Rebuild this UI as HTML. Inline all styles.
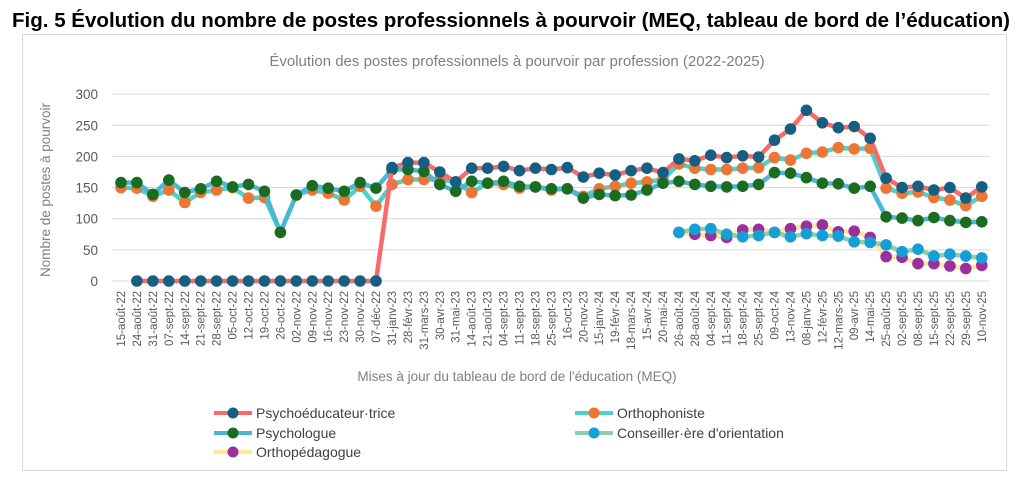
<!DOCTYPE html>
<html><head><meta charset="utf-8"><style>
body{margin:0;background:#fff;width:1024px;height:499px;overflow:hidden;font-family:"Liberation Sans",sans-serif}
</style></head><body>
<svg id="s" width="1024" height="499" xmlns="http://www.w3.org/2000/svg" font-family="Liberation Sans, sans-serif">
<text x="12" y="27" font-size="20" font-weight="bold" fill="#000" textLength="998" lengthAdjust="spacingAndGlyphs">Fig. 5 Évolution du nombre de postes professionnels à pourvoir (MEQ, tableau de bord de l’éducation)</text>
<rect x="22.5" y="34.5" width="984" height="436" fill="#fff" stroke="#d9d9d9"/>
<text x="517" y="66" font-size="15" fill="#7f7f7f" text-anchor="middle">Évolution des postes professionnels à pourvoir par profession (2022-2025)</text>
<text x="517" y="381" font-size="13.5" fill="#7f7f7f" text-anchor="middle">Mises à jour du tableau de bord de l'éducation (MEQ)</text>
<text transform="translate(50,190) rotate(-90)" font-size="13.5" fill="#7f7f7f" text-anchor="middle">Nombre de postes à pourvoir</text>
<g id="g"></g>
</svg>
<script>
var g=document.getElementById('g'),h='';
var X0=121,DX=15.94,Y0=281,K=0.623;
function X(i){return X0+i*DX}function Y(v){return Y0-v*K}
for(var t=0;t<=300;t+=50){var y=Y(t);h+='<line x1="112" x2="990" y1="'+y+'" y2="'+y+'" stroke="#d9d9d9"/>';h+='<text x="98" y="'+(y+5)+'" font-size="13.5" fill="#595959" text-anchor="end">'+t+'</text>';}
var L=["15-août-22","24-août-22","31-août-22","07-sept-22","14-sept-22","21-sept-22","28-sept-22","05-oct-22","12-oct-22","19-oct-22","26-oct-22","02-nov-22","09-nov-22","16-nov-22","23-nov-22","30-nov-22","07-déc-22","31-janv-23","28-févr-23","31-mars-23","30-avr-23","31-mai-23","14-août-23","21-août-23","04-sept-23","11-sept-23","18-sept-23","25-sept-23","16-oct-23","20-nov-23","15-janv-24","19-févr-24","18-mars-24","15-avr-24","20-mai-24","26-août-24","28-août-24","04-sept-24","11-sept-24","18-sept-24","25-sept-24","09-oct-24","13-nov-24","08-janv-25","12-févr-25","12-mars-25","09-avr-25","14-mai-25","25-août-25","02-sept-25","08-sept-25","15-sept-25","22-sept-25","29-sept-25","10-nov-25"];
L.forEach(function(l,i){h+='<text transform="translate('+(X(i)+4)+',291) rotate(-90)" font-size="11.5" fill="#595959" text-anchor="end">'+l+'</text>';});
var N=null;
var pe=[N,0,0,0,0,0,0,0,0,0,0,0,0,0,0,0,0,182,190,190,175,159,181,181,184,177,181,179,182,167,173,170,177,181,174,196,193,202,198,201,199,226,244,274,254,246,248,229,165,150,152,146,150,133,151];
var or=[150,149,136,146,126,142,146,150,133,134,78,138,146,141,130,152,120,155,163,163,163,159,142,157,155,149,151,146,148,136,148,152,157,159,163,188,181,179,179,181,182,198,194,205,207,214,212,213,149,141,143,134,130,121,136];
var ps=[158,158,139,162,142,148,160,151,155,144,78,138,153,149,144,158,149,179,179,176,155,144,160,157,160,152,151,148,148,133,139,137,138,146,157,160,155,152,151,152,155,174,173,166,157,156,149,152,103,101,97,102,97,94,95];
var co=[],op=[],c2=[78,83,84,75,71,73,78,71,76,73,72,63,62,58,47,51,40,43,40,37],o2=[78,75,73,70,82,83,78,84,88,90,79,80,70,39,38,28,28,24,20,25];
for(var i=0;i<55;i++){co.push(i<35?N:c2[i-35]);op.push(i<35?N:o2[i-35]);}
var S=[[op,"#ffe699","#9b2f9e"],[co,"#8fcfa8","#159fd7"],[or,"#4fd1c5","#ed7536"],[ps,"#4ab8d4","#1b6b21"],[pe,"#f76b6b","#155f83"]];
S.forEach(function(s){var d='';s[0].forEach(function(v,i){if(v===null)return;d+=(d?'L':'M')+X(i).toFixed(1)+' '+Y(v).toFixed(1);});
h+='<path d="'+d+'" fill="none" stroke="'+s[1]+'" stroke-width="4.5" stroke-linejoin="round"/>';
s[0].forEach(function(v,i){if(v===null)return;h+='<circle cx="'+X(i).toFixed(1)+'" cy="'+Y(v).toFixed(1)+'" r="5.8" fill="'+s[2]+'"/>';});});
var LG=[[214,413,"#f76b6b","#155f83","Psychoéducateur·trice"],[575,413,"#4fd1c5","#ed7536","Orthophoniste"],[214,433,"#4ab8d4","#1b6b21","Psychologue"],[575,433,"#8fcfa8","#159fd7","Conseiller·ère d'orientation"],[214,452,"#ffe699","#9b2f9e","Orthopédagogue"]];
LG.forEach(function(a){h+='<line x1="'+a[0]+'" x2="'+(a[0]+38)+'" y1="'+a[1]+'" y2="'+a[1]+'" stroke="'+a[2]+'" stroke-width="4"/><circle cx="'+(a[0]+19)+'" cy="'+a[1]+'" r="5.5" fill="'+a[3]+'"/><text x="'+(a[0]+42)+'" y="'+(a[1]+5)+'" font-size="14" fill="#404040">'+a[4]+'</text>';});
g.innerHTML=h;
</script>
</body></html>
